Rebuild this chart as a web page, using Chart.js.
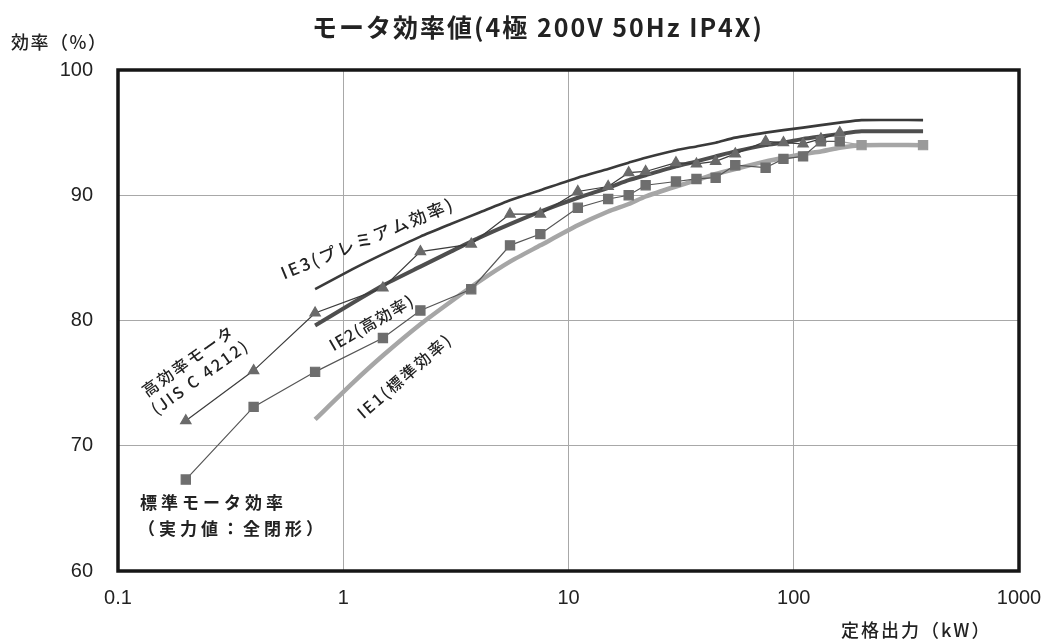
<!DOCTYPE html>
<html lang="ja">
<head>
<meta charset="utf-8">
<title>モータ効率値</title>
<script src="https://cdn.jsdelivr.net/npm/chart.js@4.4.1/dist/chart.umd.min.js"></script>
<style>
  body { margin: 0; background: #fff; }
  #wrap { width: 1044px; height: 641px; position: relative; }
</style>
</head>
<body>
<div id="wrap"><canvas id="effChart"></canvas></div>
<script>
// =====================================================
// DATA
// =====================================================
const xTicks = [0.1, 1, 10, 100, 1000];

// measured motors (kW)
const kwMeasured = [0.2, 0.4, 0.75, 1.5, 2.2, 3.7, 5.5, 7.5, 11, 15, 18.5, 22, 30, 37, 45, 55, 75, 90, 110, 132, 160];
const highEffMotor = [72.0, 76.0, 80.6, 82.6, 85.5, 86.1, 88.5, 88.5, 90.3, 90.7, 91.8, 91.9, 92.6, 92.5, 92.7, 93.3, 94.3, 94.2, 94.1, 94.5, 95.0];
const kwStandard = [0.2, 0.4, 0.75, 1.5, 2.2, 3.7, 5.5, 7.5, 11, 15, 18.5, 22, 30, 37, 45, 55, 75, 90, 110, 132, 160, 200, 375];
const standardMotor = [67.3, 73.1, 75.9, 78.6, 80.8, 82.5, 86.0, 86.9, 89.0, 89.7, 90.0, 90.8, 91.1, 91.3, 91.4, 92.4, 92.2, 92.9, 93.1, 94.3, 94.3, 94.0, 94.0];

// IE classes (kW)
const kwIE = [0.75, 1.1, 1.5, 2.2, 3, 4, 5.5, 7.5, 11, 15, 18.5, 22, 30, 37, 45, 55, 75, 90, 110, 132, 160, 200, 375];
const ie1 = [72.1, 75.0, 77.2, 79.7, 81.5, 83.1, 84.7, 86.0, 87.6, 88.7, 89.3, 89.9, 90.7, 91.2, 91.7, 92.1, 92.7, 93.0, 93.3, 93.5, 93.8, 94.0, 94.0];
const ie2 = [79.6, 81.4, 82.8, 84.3, 85.5, 86.6, 87.7, 88.7, 89.8, 90.6, 91.2, 91.6, 92.3, 92.7, 93.1, 93.5, 94.0, 94.2, 94.5, 94.7, 94.9, 95.1, 95.1];
const ie3 = [82.5, 84.1, 85.3, 86.7, 87.7, 88.6, 89.6, 90.4, 91.4, 92.1, 92.6, 93.0, 93.6, 93.9, 94.2, 94.6, 95.0, 95.2, 95.4, 95.6, 95.8, 96.0, 96.0];

const toPoints = (xs, ys) => xs.map((x, i) => ({ x: x, y: ys[i] }));

const TICK_FONT = { family: "'Liberation Sans', Arial, sans-serif", size: 20 };
const JP = "'Noto Sans CJK JP', 'Noto Sans', sans-serif";

// =====================================================
// TEXT / FRAME PLUGIN
// =====================================================
function rotatedText(ctx, lines, cx, cy, angleDeg, size, spacing, lineGap) {
    ctx.save();
    ctx.translate(cx, cy);
    ctx.rotate(angleDeg * Math.PI / 180);
    ctx.font = `500 ${size}px ${JP}`;
    ctx.letterSpacing = spacing + 'px';
    ctx.textAlign = 'center';
    ctx.textBaseline = 'middle';
    const off = (lines.length - 1) * lineGap / 2;
    lines.forEach((ln, i) => ctx.fillText(ln, 0, i * lineGap - off));
    ctx.restore();
}

const labelsPlugin = {
    id: 'labels',
    afterDatasetsDraw(chart) {
        const ctx = chart.ctx;
        const a = chart.chartArea;
        const xs = chart.scales.x, ys = chart.scales.y;
        const px = v => xs.getPixelForValue(v);
        const py = v => ys.getPixelForValue(v);

        // plot frame
        ctx.save();
        ctx.strokeStyle = '#161616';
        ctx.lineWidth = 3.5;
        ctx.strokeRect(a.left, a.top, a.right - a.left, a.bottom - a.top);
        ctx.restore();

        ctx.fillStyle = '#222';
        rotatedText(ctx, ['IE3(プレミアム効率)'], px(1.284), py(86.56), -22.4, 17, 2.5, 0);
        rotatedText(ctx, ['IE2(高効率)'], px(1.338), py(79.84), -30, 16, 1.5, 0);
        rotatedText(ctx, ['IE1(標準効率)'], px(1.874), py(75.6), -41, 16, 2.3, 0);
        rotatedText(ctx, ['高効率モータ', '(JIS C 4212)'], px(0.218), py(76.15), -35.6, 16, 2.3, 20);

        // standard motor note
        ctx.save();
        ctx.font = `bold 17px ${JP}`;
        ctx.textAlign = 'left';
        ctx.textBaseline = 'middle';
        ctx.letterSpacing = '4px';
        ctx.fillText('標準モータ効率', 140, 503);
        ctx.fillText('（実力値：全閉形）', 138, 529);
        ctx.restore();

        // titles
        ctx.save();
        ctx.fillStyle = '#222';
        ctx.textBaseline = 'middle';
        ctx.textAlign = 'center';
        ctx.font = `bold 25px ${JP}`;
        ctx.letterSpacing = '2px';
        ctx.fillText('モータ効率値(4極 200V 50Hz IP4X)', 538, 27);
        ctx.textAlign = 'left';
        ctx.font = `500 18px ${JP}`;
        ctx.letterSpacing = '1.5px';
        ctx.fillText('効率（%）', 11, 42);
        ctx.letterSpacing = '2px';
        ctx.fillText('定格出力（kW）', 841, 630);
        ctx.restore();
    }
};

// =====================================================
// CHART
// =====================================================
const ctx = document.getElementById('effChart').getContext('2d');
new Chart(ctx, {
    type: 'line',
    data: {
        datasets: [
            {
                label: '高効率モータ (JIS C 4212)',
                data: toPoints(kwMeasured, highEffMotor),
                borderColor: '#3c3c3c',
                borderWidth: 1.2,
                pointStyle: 'triangle',
                pointRadius: 6,
                pointBackgroundColor: '#6a6a6a',
                pointBorderColor: '#6a6a6a',
                tension: 0
            },
            {
                label: '標準モータ効率',
                data: toPoints(kwStandard, standardMotor),
                borderColor: '#555',
                borderWidth: 1.2,
                pointStyle: 'rect',
                pointRadius: 6.5,
                pointBackgroundColor: c => (c.raw && c.raw.x >= 200) ? '#9a9a9a' : '#6e6e6e',
                pointBorderColor: c => (c.raw && c.raw.x >= 200) ? '#9a9a9a' : '#6e6e6e',
                segment: { borderColor: s => s.p0.parsed.x >= 160 ? '#a6a6a6' : undefined },
                tension: 0
            },
            {
                label: 'IE3',
                data: toPoints(kwIE, ie3),
                borderColor: '#3a3a3a',
                borderWidth: 2.6,
                pointRadius: 0,
                tension: 0.2
            },
            {
                label: 'IE2',
                data: toPoints(kwIE, ie2),
                borderColor: '#4e4e4e',
                borderWidth: 4,
                pointRadius: 0,
                tension: 0.2
            },
            {
                label: 'IE1',
                data: toPoints(kwIE, ie1),
                borderColor: '#a6a6a6',
                borderWidth: 4.5,
                pointRadius: 0,
                tension: 0.2
            }
        ]
    },
    options: {
        responsive: true,
        maintainAspectRatio: false,
        animation: false,
        layout: { padding: { top: 70, right: 25, left: 0, bottom: 0 } },
        plugins: { legend: { display: false }, title: { display: false }, tooltip: { enabled: false } },
        scales: {
            x: {
                type: 'logarithmic',
                min: 0.1,
                max: 1000,
                afterBuildTicks: s => { s.ticks = xTicks.map(v => ({ value: v })); },
                afterFit: s => { s.height = 70; s.paddingLeft = 0; s.paddingRight = 0; },
                ticks: {
                    callback: v => String(v),
                    font: TICK_FONT,
                    color: '#222',
                    padding: 15,
                    autoSkip: false,
                    maxRotation: 0
                },
                grid: { color: '#a8a8a8', lineWidth: 1, drawTicks: false },
                border: { display: false }
            },
            y: {
                min: 60,
                max: 100,
                afterFit: s => { s.width = 118; },
                ticks: { stepSize: 10, font: TICK_FONT, color: '#222', padding: 25 },
                grid: { color: '#a8a8a8', lineWidth: 1, drawTicks: false },
                border: { display: false }
            }
        }
    },
    plugins: [labelsPlugin]
});
</script>
</body>
</html>
